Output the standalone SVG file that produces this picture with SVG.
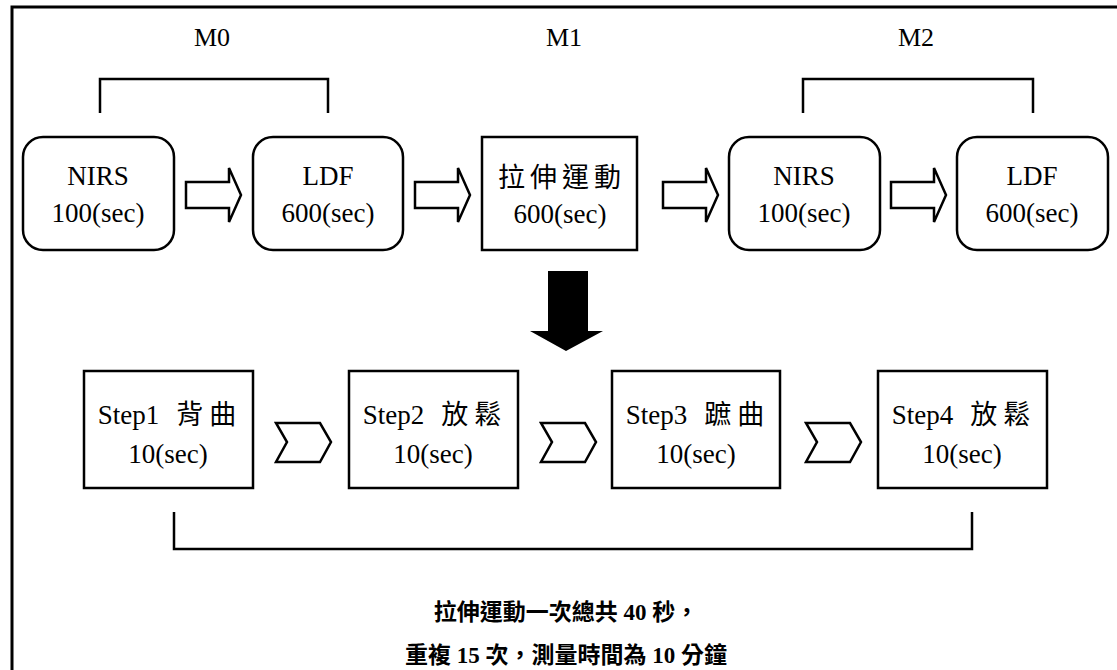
<svg xmlns="http://www.w3.org/2000/svg" width="1117" height="670" viewBox="0 0 1117 670">
<defs>
<style>
.t{font-family:"Liberation Serif","Noto Sans CJK TC",serif;font-size:27px;fill:#000;text-anchor:middle}
.b{font-family:"Liberation Serif","Noto Sans CJK TC",serif;font-size:23px;font-weight:bold;fill:#000;text-anchor:middle}
.box{fill:#fff;stroke:#000;stroke-width:2.5}
.ln{fill:none;stroke:#000;stroke-width:2.5}
.ha{fill:#fff;stroke:#000;stroke-width:2.5;stroke-linejoin:miter}
</style>
</defs>
<rect width="1117" height="670" fill="#fff"/>
<path d="M12 670 V7 H1117" fill="none" stroke="#000" stroke-width="3"/>
<g id="labels">
<text class="t" x="212" y="46" style="font-size:26px">M0</text>
<text class="t" x="564" y="46" style="font-size:26px">M1</text>
<text class="t" x="916" y="46" style="font-size:26px">M2</text>
</g>
<g id="connectors">
<path class="ln" d="M100 113 V79 H328 V113"/>
<path class="ln" d="M803 113 V79 H1033 V113"/>
<path class="ha" d="M186 182 H229 V168 L241 195 L229 222 V208 H186 Z"/>
<path class="ha" d="M415 182 H458 V168 L470 195 L458 222 V208 H415 Z"/>
<path class="ha" d="M663 182 H706 V168 L718 195 L706 222 V208 H663 Z"/>
<path class="ha" d="M891 182 H934 V168 L946 195 L934 222 V208 H891 Z"/>
<path d="M548 271 H588 V331 H603 L566 351 L530 331 H548 Z" fill="#000"/>
<path class="ha" d="M276 423 H320 L331 442 L320 462 H276 L287 442 Z"/>
<path class="ha" d="M541 423 H585 L596 442 L585 462 H541 L552 442 Z"/>
<path class="ha" d="M806 423 H850 L861 442 L850 462 H806 L817 442 Z"/>
<path class="ln" d="M174 512 V549 H972 V512"/>
</g>
<g id="n1"><rect class="box" x="23" y="137" width="151" height="113" rx="20"/><text class="t" x="98" y="185">NIRS</text><text class="t" x="98" y="222">100(sec)</text></g>
<g id="n2"><rect class="box" x="253" y="137" width="150" height="113" rx="20"/><text class="t" x="328" y="185">LDF</text><text class="t" x="328" y="222">600(sec)</text></g>
<g id="n3"><rect class="box" x="482" y="137" width="155" height="113"/><text class="t" x="562" y="187" style="letter-spacing:5px">拉伸運動</text><text class="t" x="560" y="223">600(sec)</text></g>
<g id="n4"><rect class="box" x="729" y="137" width="151" height="113" rx="20"/><text class="t" x="804" y="185">NIRS</text><text class="t" x="804" y="222">100(sec)</text></g>
<g id="n5"><rect class="box" x="957" y="137" width="151" height="113" rx="20"/><text class="t" x="1032" y="185">LDF</text><text class="t" x="1032" y="222">600(sec)</text></g>
<g id="s1"><rect class="box" x="84" y="371" width="169" height="117"/><text class="t" x="167" y="424">Step1<tspan dx="17">背</tspan><tspan dx="6">曲</tspan></text><text class="t" x="168" y="463">10(sec)</text></g>
<g id="s2"><rect class="box" x="349" y="371" width="169" height="117"/><text class="t" x="432" y="424">Step2<tspan dx="17">放</tspan><tspan dx="6">鬆</tspan></text><text class="t" x="433" y="463">10(sec)</text></g>
<g id="s3"><rect class="box" x="612" y="371" width="168" height="117"/><text class="t" x="695" y="424">Step3<tspan dx="17">蹠</tspan><tspan dx="6">曲</tspan></text><text class="t" x="696" y="463">10(sec)</text></g>
<g id="s4"><rect class="box" x="878" y="371" width="169" height="117"/><text class="t" x="961" y="424">Step4<tspan dx="17">放</tspan><tspan dx="6">鬆</tspan></text><text class="t" x="962" y="463">10(sec)</text></g>
<g id="note">
<text class="b" x="566" y="620">拉伸運動一次總共 40 秒，</text>
<text class="b" x="566" y="663">重複 15 次，測量時間為 10 分鐘</text>
</g>
</svg>
